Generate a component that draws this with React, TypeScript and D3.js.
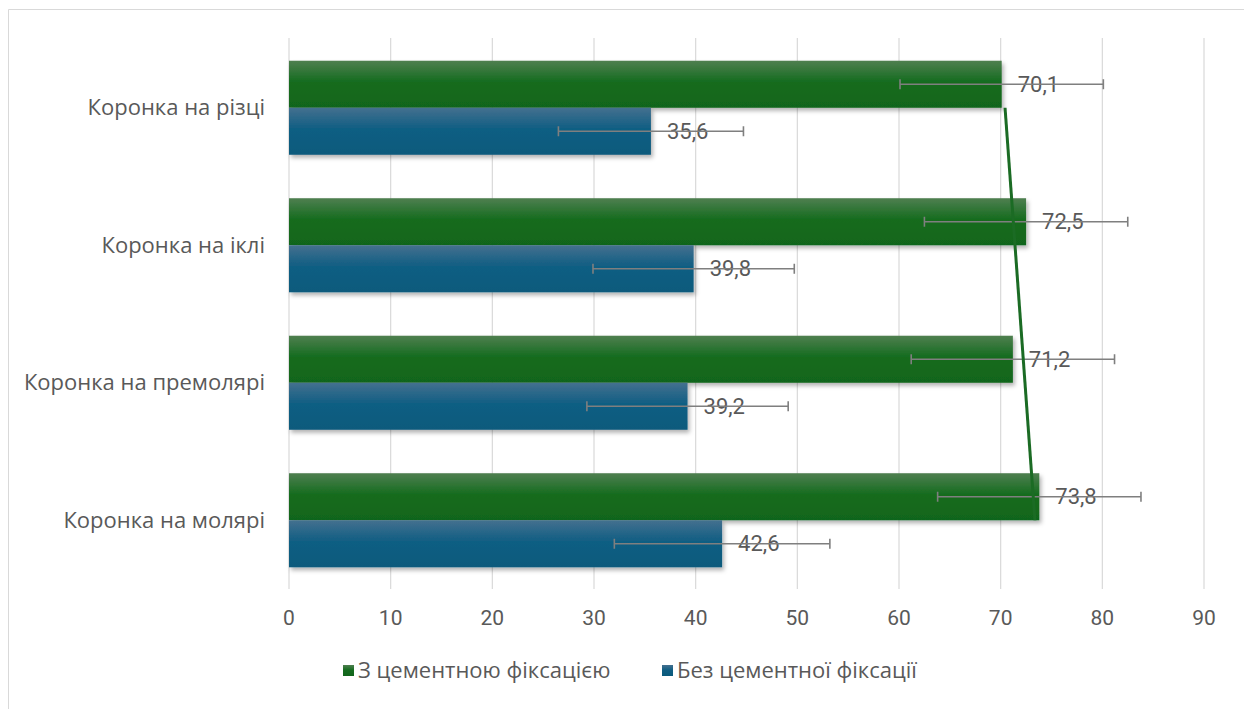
import React from "react";
import * as d3 from "d3";

const categories = ["Коронка на різці", "Коронка на іклі", "Коронка на премолярі", "Коронка на молярі"];
const seriesNames = ["З цементною фіксацією", "Без цементної фіксації"];
const cementValues = [70.1, 72.5, 71.2, 73.8];
const noCementValues = [35.6, 39.8, 39.2, 42.6];
const cementErrors = [10, 10, 10, 10];
const noCementErrors = [9.1, 9.9, 9.9, 10.6];
const xTicks = [0, 10, 20, 30, 40, 50, 60, 70, 80, 90];

const W = 1244;
const H = 709;
const FONT = "'Open Sans', sans-serif";
const NUMFONT = "Roboto, sans-serif";
const TEXT = "#595959";

export default function App() {
  const x = d3.scaleLinear().domain([0, 90]).range([289, 1204]);
  const y = d3.scaleBand<string>().domain(categories).range([39, 589]).padding(0);
  const step = y.bandwidth();
  const barH = step * 0.342;

  const idx = cementValues.map((_, i) => i + 1);
  const mx = d3.mean(idx)!;
  const my = d3.mean(cementValues)!;
  const slope =
    d3.sum(idx.map((v, i) => (v - mx) * (cementValues[i] - my))) /
    d3.sum(idx.map((v) => (v - mx) ** 2));
  const trend = (i: number) => my + slope * (i - mx);
  const yc = (c: string) => y(c)! + step / 2;

  const series = [
    { name: seriesNames[0], values: cementValues, errors: cementErrors, fill: "url(#gGreen)", off: -1 },
    { name: seriesNames[1], values: noCementValues, errors: noCementErrors, fill: "url(#gBlue)", off: 0 },
  ];

  return (
    <svg width={W} height={H} style={{ position: "absolute", left: 0, top: 0, display: "block" }}>
      <defs>
        <linearGradient id="gGreen" x1="0" y1="0" x2="0" y2="1">
          <stop offset="0" stopColor="#4f7f50" />
          <stop offset="0.45" stopColor="#156c1f" />
          <stop offset="1" stopColor="#11651b" />
        </linearGradient>
        <linearGradient id="gBlue" x1="0" y1="0" x2="0" y2="1">
          <stop offset="0" stopColor="#44708f" />
          <stop offset="0.45" stopColor="#105e83" />
          <stop offset="1" stopColor="#0a5a7c" />
        </linearGradient>
        <filter id="shadow" x="-5%" y="-20%" width="110%" height="150%">
          <feDropShadow dx="2" dy="3" stdDeviation="2" floodColor="#000" floodOpacity="0.3" />
        </filter>
      </defs>
      <rect x={0} y={0} width={W} height={H} fill="#fff" />
      <path d={`M8.5,${H} V9.5 H${W}`} fill="none" stroke="#d9d9d9" strokeWidth={1} />

      {xTicks.map((t) => (
        <g key={t}>
          <line x1={x(t)} x2={x(t)} y1={38} y2={589} stroke="#d9d9d9" strokeWidth={1.2} />
          <text x={x(t)} y={625} textAnchor="middle" fontFamily={NUMFONT} fontSize={21} fill={TEXT}>
            {t}
          </text>
        </g>
      ))}

      {categories.map((c) => (
        <text key={c} x={265} y={yc(c) + 7.5} textAnchor="end" fontFamily={FONT} fontSize={22} fill={TEXT}>
          {c}
        </text>
      ))}

      {series.map((s) =>
        categories.map((c, i) => (
          <rect
            key={s.name + c}
            x={x(0)}
            y={yc(c) + s.off * barH}
            width={x(s.values[i]) - x(0)}
            height={barH}
            fill={s.fill}
            filter="url(#shadow)"
          />
        ))
      )}

      {series.map((s) =>
        categories.map((c, i) => {
          const cy = yc(c) + s.off * barH + barH / 2;
          const lo = x(s.values[i] - s.errors[i]);
          const hi = x(s.values[i] + s.errors[i]);
          return (
            <g key={"e" + s.name + c}>
              <text x={x(s.values[i]) + 16} y={cy + 7.5} fontFamily={NUMFONT} fontSize={22} fill={TEXT}>
                {String(s.values[i]).replace(".", ",")}
              </text>
              <g stroke="#7f7f7f" strokeWidth={1.6}>
                <line x1={lo} x2={hi} y1={cy} y2={cy} />
                <line x1={lo} x2={lo} y1={cy - 5} y2={cy + 5} />
                <line x1={hi} x2={hi} y1={cy - 5} y2={cy + 5} />
              </g>
            </g>
          );
        })
      )}

      <line
        x1={x(trend(1))}
        y1={yc(categories[0])}
        x2={x(trend(categories.length))}
        y2={yc(categories[categories.length - 1])}
        stroke="#1b6b24"
        strokeWidth={3}
      />

      {series.map((s, i) => {
        const lx = [343, 662][i];
        return (
          <g key={"l" + s.name}>
            <rect x={lx} y={665} width={11} height={11} fill={s.fill} />
            <text x={lx + 15} y={678} fontFamily={FONT} fontSize={22} fill={TEXT}>
              {s.name}
            </text>
          </g>
        );
      })}
    </svg>
  );
}
